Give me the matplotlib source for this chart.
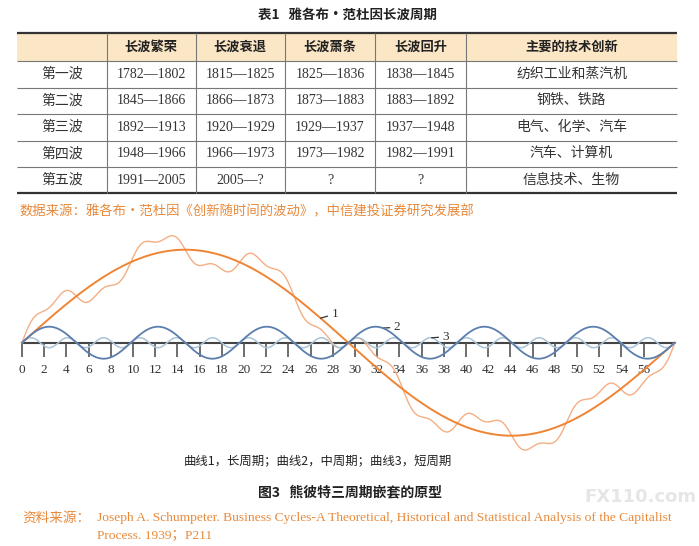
import numpy as np
import matplotlib
matplotlib.use("Agg")
import matplotlib.pyplot as plt

# ---- table data ----
table_title = "表1   雅各布·范杜因长波周期"
col_names = ["长波繁荣", "长波衰退", "长波萧条", "长波回升", "主要的技术创新"]
waves = ["第一波", "第二波", "第三波", "第四波", "第五波"]
prosperity = ["1782—1802", "1845—1866", "1892—1913", "1948—1966", "1991—2005"]
recession = ["1815—1825", "1866—1873", "1920—1929", "1966—1973", "2005—?"]
depression = ["1825—1836", "1873—1883", "1929—1937", "1973—1982", "?"]
recovery = ["1838—1845", "1883—1892", "1937—1948", "1982—1991", "?"]
innovation = ["纺织工业和蒸汽机", "钢铁、铁路", "电气、化学、汽车", "汽车、计算机", "信息技术、生物"]
table_source = "数据来源：雅各布·范杜因《创新随时间的波动》，中信建投证券研究发展部"

# ---- chart data (Schumpeter three-cycle model) ----
cycle_names = ["1", "2", "3"]          # long, medium, short
cycle_periods = [58.8, 9.8, 3.27]      # in axis units
cycle_amps = [93, 16, 5]
xticks = list(range(0, 57, 2))
legend_text = "曲线1，长周期；曲线2，中周期；曲线3，短周期"
fig_title = "图3   熊彼特三周期嵌套的原型"
src_head = "资料来源："
src_line1 = ("Joseph A. Schumpeter. Business Cycles-A Theoretical, Historical "
             "and Statistical Analysis of the Capitalist")
src_line2 = "Process. 1939；P211"

CJK = "Noto Sans CJK SC"
SERIF = ["Liberation Serif", CJK]
ORANGE_TXT = "#e8893a"

fig = plt.figure(figsize=(6.99, 5.46), dpi=100)
fig.patch.set_facecolor("white")

# table is drawn in pixel coordinates on a full-figure axes
tab = fig.add_axes([0, 0, 1, 1])
tab.set_xlim(0, 699)
tab.set_ylim(546, 0)
tab.axis("off")

col_edges = [17, 106.7, 195.6, 285, 375, 466, 677]
row_edges = [33, 61, 87.5, 114, 140.5, 167, 193]

tab.text(348, 15, table_title, ha="center", va="center", fontsize=9.7,
         fontweight="bold", family=CJK, color="#222222")
tab.fill_between([col_edges[0], col_edges[-1]], row_edges[0], row_edges[1],
                 color="#fbe6c6", lw=0)
tab.hlines([row_edges[0], row_edges[-1]], col_edges[0], col_edges[-1],
           color="#333333", lw=1.6)
tab.hlines(row_edges[1:-1], col_edges[0], col_edges[-1], color="#777777", lw=0.8)
tab.vlines(col_edges[1:-1], row_edges[0], row_edges[-1], color="#777777", lw=0.8)

centers_x = [(a + b) / 2 for a, b in zip(col_edges[:-1], col_edges[1:])]
centers_y = [(a + b) / 2 for a, b in zip(row_edges[:-1], row_edges[1:])]

for cx, name in zip(centers_x[1:], col_names):
    tab.text(cx, centers_y[0], name, ha="center", va="center", fontsize=9.5,
             fontweight="bold", family=CJK, color="#222222")

columns = [waves, prosperity, recession, depression, recovery, innovation]
for cx, col in zip(centers_x, columns):
    for cy, val in zip(centers_y[1:], col):
        tab.text(cx, cy, val, ha="center", va="center", fontsize=10,
                 family=SERIF, color="#333333")

tab.text(20, 211, table_source, ha="left", va="center", fontsize=9.6,
         family=CJK, color=ORANGE_TXT)

# captions under the chart
tab.text(318, 462, legend_text, ha="center", va="center", fontsize=8.9,
         family=CJK, color="#222222")
tab.text(350, 492, fig_title, ha="center", va="center", fontsize=10,
         fontweight="bold", family=CJK, color="#222222")
tab.text(22, 518, src_head, ha="left", va="center", fontsize=9.8,
         family=CJK, color=ORANGE_TXT)
tab.text(97, 518, src_line1, ha="left", va="center", fontsize=9.7,
         family=SERIF, color=ORANGE_TXT)
tab.text(97, 535, src_line2, ha="left", va="center", fontsize=9.7,
         family=SERIF, color=ORANGE_TXT)
# faint watermark
tab.text(640, 497, "FX110.com", ha="center", va="center", fontsize=13,
         fontweight="bold", family="DejaVu Sans", color="#e6e6e6", zorder=0)

# ---- chart ----
px_per_unit = 11.1
ax = fig.add_axes([0, 1 - 455 / 546, 1, 230 / 546])
ax.patch.set_alpha(0)
ax.set_xlim(-22 / px_per_unit, 677 / px_per_unit)
ax.set_ylim(-112.3, 117.7)

x_end = cycle_periods[0]
x = np.linspace(0, x_end, 1500)
waves_y = [a * np.sin(2 * np.pi * x / p) for a, p in zip(cycle_amps, cycle_periods)]
total = waves_y[0] + waves_y[1] + waves_y[2]

ax.plot(x, total, color="#f5ae82", lw=1.0, zorder=2)
ax.plot(x, waves_y[0], color="#ef8433", lw=1.4, zorder=3)
ax.plot(x, waves_y[2], color="#a9c3d8", lw=1.1, zorder=3)
ax.plot(x, waves_y[1], color="#5c7ead", lw=1.3, zorder=4)

for s in ["top", "right", "left"]:
    ax.spines[s].set_visible(False)
ax.spines["bottom"].set_position(("data", 0))
ax.spines["bottom"].set_bounds(0, x_end)
ax.spines["bottom"].set_color("#444444")
ax.spines["bottom"].set_linewidth(1.5)
ax.spines["bottom"].set_zorder(1)
ax.set_yticks([])
ax.set_xticks(xticks)
ax.set_xticklabels([str(t) for t in xticks], family="Liberation Serif",
                   fontsize=9.5, color="#333333")
ax.tick_params(axis="x", direction="out", length=10, width=1.2,
               color="#555555", pad=5.5)

# curve labels with short leader lines
label_pos = [(27.9, 28.7), (33.5, 15.4), (37.9, 6.0)]
leader_from = [26.9, 32.5, 36.9]
for name, (tx, ty), lx, amp, per in zip(cycle_names, label_pos, leader_from,
                                        cycle_amps, cycle_periods):
    ly = amp * np.sin(2 * np.pi * lx / per)
    ax.annotate(name, xy=(lx, ly), xytext=(tx, ty), ha="left", va="center",
                fontsize=9.5, family="Liberation Serif", color="#333333",
                arrowprops=dict(arrowstyle="-", color="#333333", lw=0.9,
                                shrinkA=1, shrinkB=0))

fig.savefig("out.png", dpi=100, facecolor="white")
